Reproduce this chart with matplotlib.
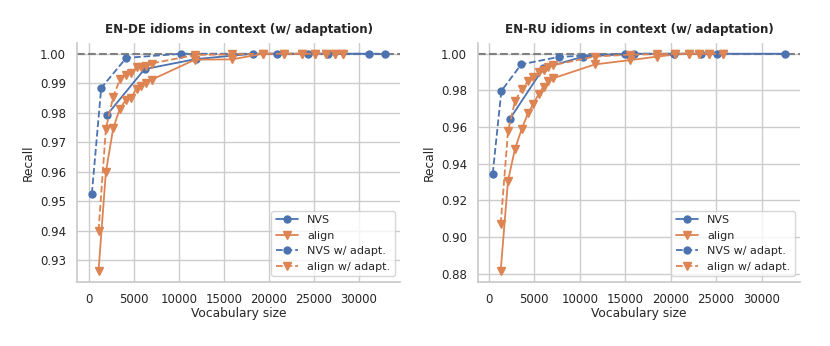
import matplotlib
matplotlib.use("Agg")
import matplotlib.pyplot as plt
import seaborn as sns

# EN-DE
de_nvs_x = [1929, 6157, 11870, 18222, 24333, 31111]
de_nvs_y = [0.9791, 0.9948, 0.9982, 1.0, 1.0, 1.0]
de_align_x = [1039, 1855, 2671, 3412, 4043, 4637, 5267, 5786, 6306, 6936, 11758, 15913,
              19288, 21700, 23630, 25110, 26300, 27375, 28190]
de_align_y = [0.9265, 0.9599, 0.9748, 0.9814, 0.9842, 0.9850, 0.9882, 0.9891, 0.9902, 0.9912,
              0.9980, 0.9981, 1.0, 1.0, 1.0, 1.0, 1.0, 1.0, 1.0]
de_nvs_ad_x = [297, 1335, 4117, 10237, 20933, 26600, 32933]
de_nvs_ad_y = [0.9526, 0.9884, 0.9986, 1.0, 1.0, 1.0, 1.0]
de_align_ad_x = de_align_x
de_align_ad_y = [0.9401, 0.9746, 0.9854, 0.9913, 0.9929, 0.9934, 0.9956, 0.9956, 0.9959, 0.9967,
                 0.9996, 0.9998, 1.0, 1.0, 1.0, 1.0, 1.0, 1.0, 1.0]

# EN-RU
ru_nvs_x = [2299, 6000, 10400, 16022, 23321, 32628]
ru_nvs_y = [0.9642, 0.9921, 0.9985, 1.0, 1.0, 1.0]
ru_align_x = [1314, 2117, 2883, 3613, 4307, 4891, 5474, 6022, 6569, 7080, 11679, 15511,
              18467, 20511, 21971, 23139, 24270, 25766]
ru_align_y = [0.8815, 0.9307, 0.9480, 0.9587, 0.9674, 0.9724, 0.9779, 0.9819, 0.9850, 0.9866,
              0.9942, 0.9965, 0.9984, 0.9996, 1.0, 1.0, 1.0, 1.0]
ru_nvs_ad_x = [438, 1387, 3577, 7737, 15036, 20328, 25146]
ru_nvs_ad_y = [0.9345, 0.9797, 0.9942, 0.9983, 1.0, 1.0, 1.0]
ru_align_ad_x = ru_align_x
ru_align_ad_y = [0.9071, 0.9576, 0.9740, 0.9806, 0.9850, 0.9872, 0.9898, 0.9912, 0.9929, 0.9938,
                 0.9985, 0.9995, 0.9998, 1.0, 1.0, 1.0, 1.0, 1.0]

sns.set_theme(style="whitegrid", palette="deep")
plt.rcParams['font.family'] = ['DejaVu Sans']
blue, orange = sns.color_palette("deep")[0], sns.color_palette("deep")[1]

fig = plt.figure(figsize=(8.3, 3.46), dpi=100)
ax1 = fig.add_axes([0.093, 0.186, 0.389, 0.690])
ax2 = fig.add_axes([0.576, 0.186, 0.388, 0.690])

panels = [
    (ax1, "EN-DE idioms in context (w/ adaptation)",
     (de_nvs_x, de_nvs_y), (de_align_x, de_align_y),
     (de_nvs_ad_x, de_nvs_ad_y), (de_align_ad_x, de_align_ad_y)),
    (ax2, "EN-RU idioms in context (w/ adaptation)",
     (ru_nvs_x, ru_nvs_y), (ru_align_x, ru_align_y),
     (ru_nvs_ad_x, ru_nvs_ad_y), (ru_align_ad_x, ru_align_ad_y)),
]

for ax, title, nvs, align, nvs_ad, align_ad in panels:
    ax.axhline(1.0, color="gray", ls="--", lw=1.5, zorder=1)
    ax.plot(*nvs, marker="o", color=blue, lw=1.3, ms=5, label="NVS")
    ax.plot(*align, marker="v", color=orange, lw=1.3, ms=5.5, label="align")
    ax.plot(*nvs_ad, marker="o", color=blue, lw=1.3, ms=5, ls="--", label="NVS w/ adapt.")
    ax.plot(*align_ad, marker="v", color=orange, lw=1.3, ms=5.5, ls="--", label="align w/ adapt.")
    ax.set_title(title, fontsize=8.6, fontweight="bold", pad=7)
    ax.set_xlabel("Vocabulary size", fontsize=8.8, labelpad=1)
    ax.set_ylabel("Recall", fontsize=8.8, labelpad=4)
    ax.tick_params(labelsize=8.5, pad=2)
    ax.set_xticks([0, 5000, 10000, 15000, 20000, 25000, 30000])
    ax.yaxis.set_major_formatter(matplotlib.ticker.FuncFormatter(lambda v, p: "{:.2f}".format(v)))
    for s in ["top", "right"]:
        ax.spines[s].set_visible(False)
    for s in ["left", "bottom"]:
        ax.spines[s].set_color("#c8c8c8")
        ax.spines[s].set_linewidth(1.2)
    ax.legend(loc="lower right", fontsize=8, frameon=True)

ax1.set_yticks([0.93, 0.94, 0.95, 0.96, 0.97, 0.98, 0.99, 1.00])
ax2.set_yticks([0.88, 0.90, 0.92, 0.94, 0.96, 0.98, 1.00])

fig.savefig("out.png", dpi=100)
